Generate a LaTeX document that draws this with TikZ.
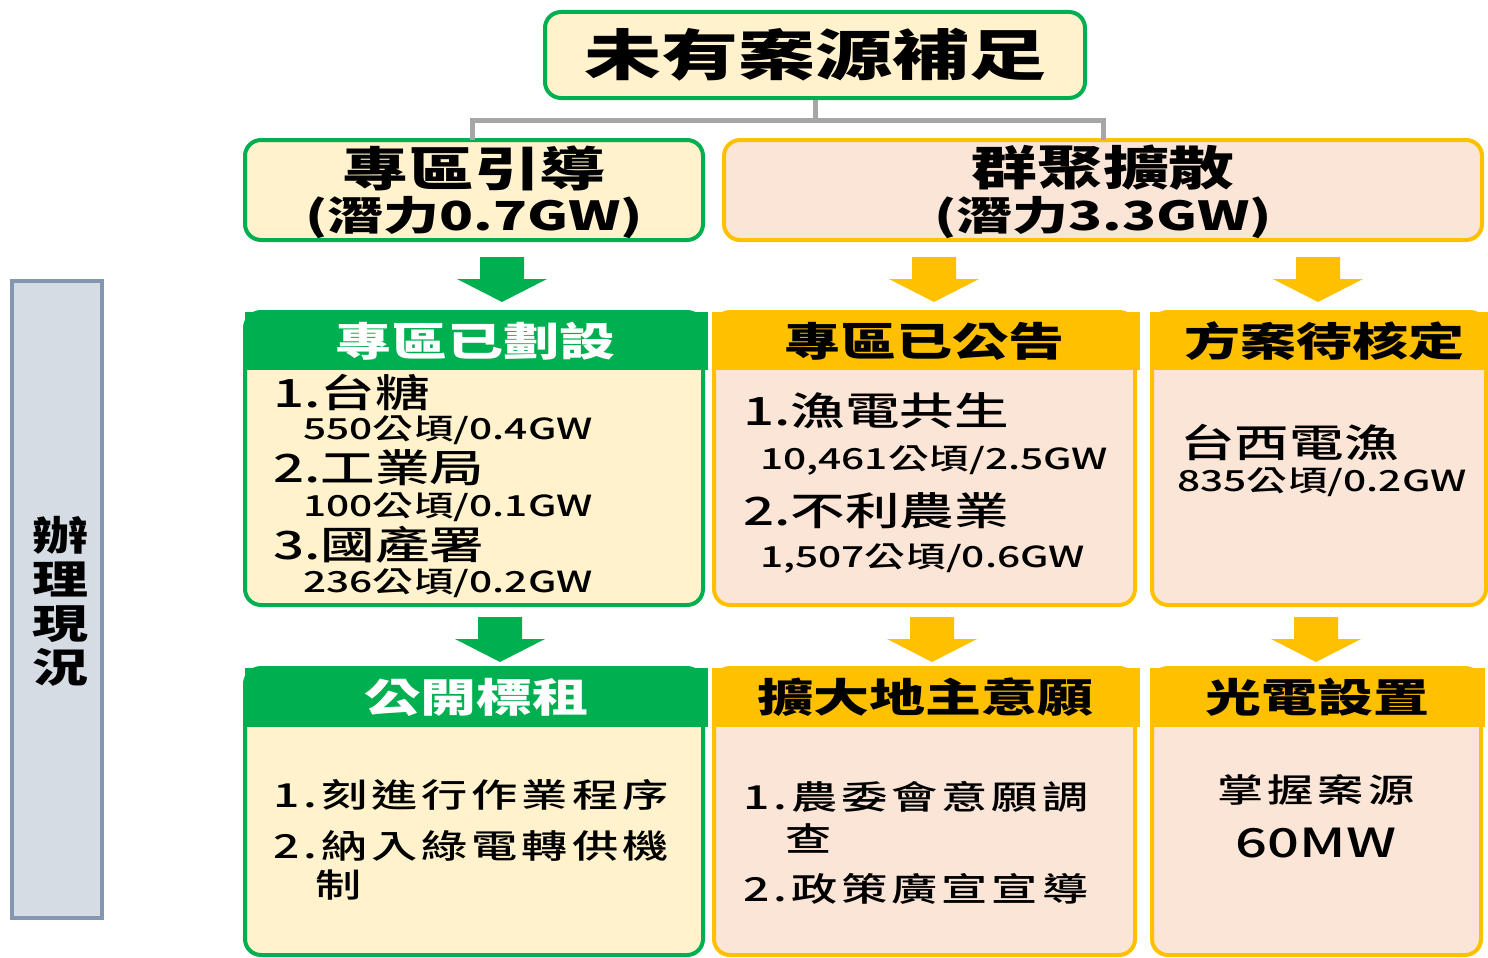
\documentclass[tikz,border=0pt]{standalone}
\usepackage{fontspec}
\setmainfont{Noto Sans CJK TC}[FakeStretch=1.4]
\newfontfamily\medfont{Noto Sans CJK TC Medium}[FakeStretch=1.4]
\usetikzlibrary{calc}
\definecolor{cgreen}{HTML}{00B050}
\definecolor{cyellow}{HTML}{FFF2CC}
\definecolor{corange}{HTML}{FFC000}
\definecolor{cpeach}{HTML}{FBE5D6}
\definecolor{cgray}{HTML}{A6A6A6}
\definecolor{cblue}{HTML}{D6DCE4}
\definecolor{cblueb}{HTML}{8497B0}
\newcommand\fs[1]{\fontsize{#1}{#1}\selectfont}
\newcommand\blockarrow[3]{%
  \fill[#1] ($(#2)+(-22,0)$) -- ($(#2)+(22,0)$) -- ($(#3)+(22,-23)$) -- ($(#3)+(45,-23)$)
    -- (#3) -- ($(#3)+(-45,-23)$) -- ($(#3)+(-22,-23)$) -- cycle;}
\tikzset{
  gbox/.style={draw=cgreen, fill=cyellow, line width=4pt, rounded corners=16pt, inner sep=0pt},
  obox/.style={draw=corange, fill=cpeach, line width=4pt, rounded corners=16pt, inner sep=0pt},
  gband/.style={fill=cgreen, inner sep=0pt},
  oband/.style={fill=corange, inner sep=0pt},
  hdr/.style={inner sep=0pt, font=\fs{40}\bfseries},
  item/.style={inner sep=0pt, anchor=west, font=\medfont\fs{39}},
  sub/.style={inner sep=0pt, anchor=west, font=\medfont\fs{29}},
  low/.style={inner sep=0pt, anchor=west, font=\medfont\fs{33}\addfontfeature{LetterSpace=12}},
  conn/.style={draw=cgray, line width=5pt},
}
\begin{document}
\begin{tikzpicture}[x=1pt,y=-1pt]
\useasboundingbox (0,0) rectangle (1488,958);

% side label
\node[draw=cblueb, fill=cblue, line width=4pt, minimum width=90pt, minimum height=637pt, inner sep=0pt] (side) at (57,599.5) {};
\node[inner sep=0pt, align=center, font=\fontsize{40}{44}\selectfont\bfseries] (sidet) at (60,601) {辦\\理\\現\\況};

% top
\node[gbox, minimum width=540pt, minimum height=86pt, font=\fs{55}\bfseries] (top) at (815,55) {未有案源補足};

% level 2
\node[gbox, minimum width=458pt, minimum height=100pt] (lead) at (474,190) {};
\node[inner sep=0pt, font=\fs{47}\bfseries] (leadt1) at (474,168) {專區引導};
\node[inner sep=0pt, font=\fs{40}\bfseries] (leadt2) at (474,218) {(潛力0.7GW)};

\node[obox, minimum width=758pt, minimum height=100pt] (clus) at (1103,190) {};
\node[inner sep=0pt, font=\fs{47}\bfseries] (clust1) at (1103,168) {群聚擴散};
\node[inner sep=0pt, font=\fs{40}\bfseries] (clust2) at (1103,218) {(潛力3.3GW)};

% connectors
\coordinate (split) at (815,120);
\draw[conn] (top.south) -- (split) -| (472,140) coordinate (leadin);
\draw[conn] (split) -| (1103,140) coordinate (clusin);

% arrows row 1
\coordinate (ga1) at (502,257); \coordinate (ga1h) at (502,302);
\coordinate (oa1) at (934,257); \coordinate (oa1h) at (934,302);
\coordinate (oa2) at (1318,257); \coordinate (oa2h) at (1318,302);
\blockarrow{cgreen}{ga1}{ga1h}
\blockarrow{corange}{oa1}{oa1h}
\blockarrow{corange}{oa2}{oa2h}

% row 2 boxes
\node[gbox, minimum width=458pt, minimum height=293pt] (zoneA) at (474,458.5) {};
\node[gband, minimum width=463pt, minimum height=58pt] (zoneAh) at (476.5,341) {};
\node[hdr, text=white] (zoneAt) at (475,341) {專區已劃設};
\node[item] (a1) at (273,392) {1.台糖};
\node[sub]  (a2) at (303,430) {550公頃/0.4GW};
\node[item] (a3) at (273,468) {2.工業局};
\node[sub]  (a4) at (303,507) {100公頃/0.1GW};
\node[item] (a5) at (273,545) {3.國產署};
\node[sub]  (a6) at (303,583) {236公頃/0.2GW};

\node[obox, minimum width=421pt, minimum height=293pt] (zoneB) at (924.5,458.5) {};
\node[oband, minimum width=428pt, minimum height=58pt] (zoneBh) at (926,341) {};
\node[hdr] (zoneBt) at (924,341) {專區已公告};
\node[item] (b1) at (743,411) {1.漁電共生};
\node[sub]  (b2) at (760,461) {10,461公頃/2.5GW};
\node[item] (b3) at (743,511) {2.不利農業};
\node[sub]  (b4) at (760,559) {1,507公頃/0.6GW};

\node[obox, minimum width=334pt, minimum height=293pt] (zoneC) at (1319,458.5) {};
\node[oband, minimum width=338pt, minimum height=58pt] (zoneCh) at (1319,341) {};
\node[hdr] (zoneCt) at (1324,341) {方案待核定};
\node[item] (c1) at (1180,443) {台西電漁};
\node[sub]  (c2) at (1177,482) {835公頃/0.2GW};

% arrows row 2
\coordinate (ga2) at (500,617); \coordinate (ga2h) at (500,662);
\coordinate (oa3) at (932,617); \coordinate (oa3h) at (932,662);
\coordinate (oa4) at (1316,617); \coordinate (oa4h) at (1316,662);
\blockarrow{cgreen}{ga2}{ga2h}
\blockarrow{corange}{oa3}{oa3h}
\blockarrow{corange}{oa4}{oa4h}

% row 3 boxes
\node[gbox, minimum width=458pt, minimum height=287pt] (actA) at (474,811.5) {};
\node[gband, minimum width=463pt, minimum height=59pt] (actAh) at (476.5,697.5) {};
\node[hdr, text=white] (actAt) at (476,697.5) {公開標租};
\node[low] (d1) at (273,795) {1.刻進行作業程序};
\node[low] (d2) at (273,846) {2.納入綠電轉供機};
\node[low] (d3) at (315,885) {制};

\node[obox, minimum width=421pt, minimum height=287pt] (actB) at (924.5,811.5) {};
\node[oband, minimum width=428pt, minimum height=59pt] (actBh) at (926,697.5) {};
\node[hdr] (actBt) at (925,697.5) {擴大地主意願};
\node[low] (e1) at (743,797) {1.農委會意願調};
\node[low] (e2) at (785,838) {查};
\node[low] (e3) at (743,889) {2.政策廣宣宣導};

\node[obox, minimum width=329pt, minimum height=287pt] (actC) at (1316.5,811.5) {};
\node[oband, minimum width=335pt, minimum height=59pt] (actCh) at (1317.5,697.5) {};
\node[hdr] (actCt) at (1317,697.5) {光電設置};
\node[inner sep=0pt, font=\medfont\fs{33}\addfontfeature{LetterSpace=12}] (f1) at (1316,790) {掌握案源};
\node[inner sep=0pt, font=\medfont\fs{40}] (f2) at (1316,843) {60MW};
\end{tikzpicture}
\end{document}
